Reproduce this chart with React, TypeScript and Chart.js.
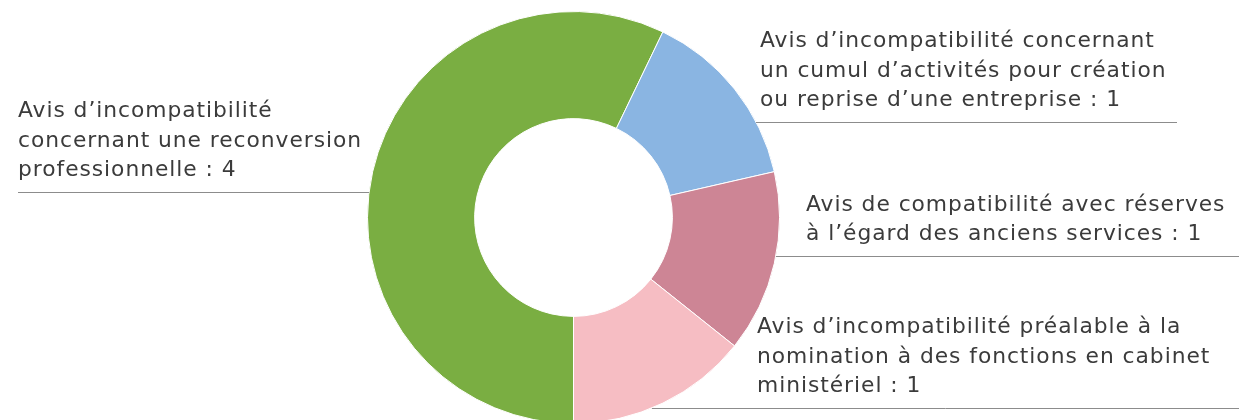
import { useEffect, useRef } from "react";
import { Chart, registerables } from "chart.js";

Chart.register(...registerables);

// ---- data ----
const categories = [
  "Avis d’incompatibilité concernant une reconversion professionnelle",
  "Avis d’incompatibilité concernant un cumul d’activités pour création ou reprise d’une entreprise",
  "Avis de compatibilité avec réserves à l’égard des anciens services",
  "Avis d’incompatibilité préalable à la nomination à des fonctions en cabinet ministériel",
];
const values = [4, 1, 1, 1];
const colors = ["#7AAE42", "#8AB5E2", "#CD8595", "#F6BDC3"];
const labelLines = [
  ["Avis d’incompatibilité", "concernant une reconversion", "professionnelle"],
  ["Avis d’incompatibilité concernant", "un cumul d’activités pour création", "ou reprise d’une entreprise"],
  ["Avis de compatibilité avec réserves", "à l’égard des anciens services"],
  ["Avis d’incompatibilité préalable à la", "nomination à des fonctions en cabinet", "ministériel"],
];

// ---- label layout (presentation only) ----
const labelLayout = [
  { side: "left", x: 18, ruleY: 192, ruleEnd: 18 },
  { side: "right", x: 760, ruleY: 122, ruleEnd: 1177 },
  { side: "right", x: 806, ruleY: 256, ruleEnd: 1239 },
  { side: "right", x: 757, ruleY: 408, ruleEnd: 1239 },
];

const FONT = '21.8px "DejaVu Sans"';
const LETTER_SPACING = "0.95px";
const LINE_H = 29.5;

const labelPlugin = {
  id: "leaderLabels",
  afterDraw(chart: any) {
    const meta = chart.getDatasetMeta(0);
    const arc: any = meta.data[0];
    if (!arc) return;
    const cx = arc.x;
    const cy = arc.y;
    const R = arc.outerRadius;
    const ctx = chart.ctx as any;
    ctx.save();
    ctx.font = FONT;
    ctx.letterSpacing = LETTER_SPACING;
    ctx.fillStyle = "#3b3b3b";
    ctx.textAlign = "left";
    ctx.textBaseline = "alphabetic";
    labelLayout.forEach((lay, i) => {
      const lines = labelLines[i].slice();
      lines[lines.length - 1] = lines[lines.length - 1] + " : " + values[i];
      const n = lines.length;
      lines.forEach((ln, j) => {
        const y = lay.ruleY - 16 - (n - 1 - j) * LINE_H;
        ctx.fillText(ln, lay.x, y);
      });
      const dy = lay.ruleY - cy;
      const half = Math.sqrt(Math.max(R * R - dy * dy, 0));
      let x1: number, x2: number;
      if (lay.side === "left") {
        x1 = lay.x;
        x2 = cx - half;
      } else {
        x1 = cx + half;
        x2 = lay.ruleEnd;
      }
      ctx.strokeStyle = "#8c8c8c";
      ctx.lineWidth = 1;
      ctx.beginPath();
      ctx.moveTo(x1, lay.ruleY + 0.5);
      ctx.lineTo(x2, lay.ruleY + 0.5);
      ctx.stroke();
    });
    ctx.restore();
  },
};

export default function App() {
  const ref = useRef<HTMLCanvasElement | null>(null);
  useEffect(() => {
    if (!ref.current) return;
    const chart = new Chart(ref.current, {
      type: "doughnut",
      data: {
        labels: categories,
        datasets: [
          {
            data: values,
            backgroundColor: colors,
            borderColor: "#ffffff",
            borderWidth: 1,
            radius: 206,
            cutout: "48%",
          } as any,
        ],
      },
      options: {
        responsive: true,
        maintainAspectRatio: false,
        animation: false,
        rotation: 180,
        layout: { padding: { left: 0, right: 92, top: 15, bottom: 0 } },
        plugins: {
          legend: { display: false },
          tooltip: { enabled: false },
        },
      } as any,
      plugins: [labelPlugin],
    });
    return () => chart.destroy();
  }, []);
  return (
    <div
      style={{
        position: "fixed",
        left: 0,
        top: 0,
        width: 1239,
        height: 420,
        overflow: "hidden",
        background: "#ffffff",
      }}
    >
      <canvas ref={ref} />
    </div>
  );
}
